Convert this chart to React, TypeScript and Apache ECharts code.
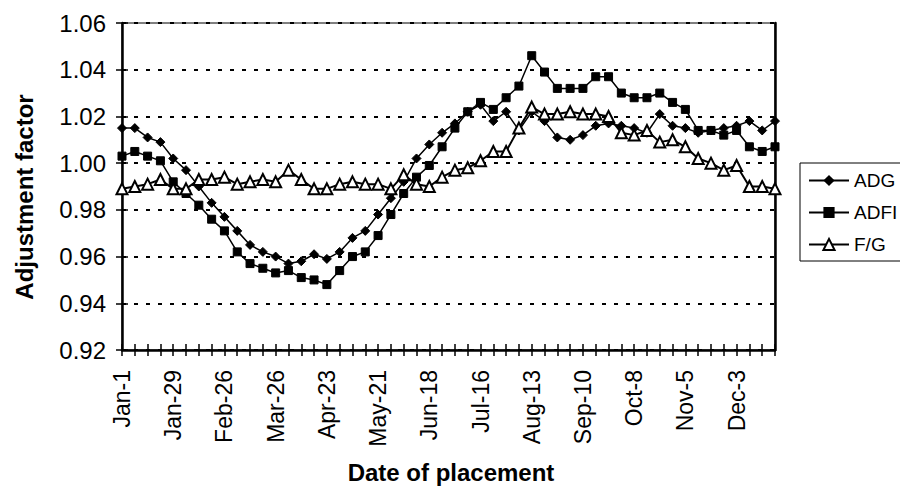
import React, { useEffect, useRef } from "react";
import * as echarts from "echarts";

const categories = [
  "Jan-1", "Jan-8", "Jan-15", "Jan-22", "Jan-29", "Feb-5", "Feb-12", "Feb-19", "Feb-26",
  "Mar-5", "Mar-12", "Mar-19", "Mar-26", "Apr-2", "Apr-9", "Apr-16", "Apr-23", "Apr-30",
  "May-7", "May-14", "May-21", "May-28", "Jun-4", "Jun-11", "Jun-18", "Jun-25", "Jul-2",
  "Jul-9", "Jul-16", "Jul-23", "Jul-30", "Aug-6", "Aug-13", "Aug-20", "Aug-27", "Sep-3",
  "Sep-10", "Sep-17", "Sep-24", "Oct-1", "Oct-8", "Oct-15", "Oct-22", "Oct-29", "Nov-5",
  "Nov-12", "Nov-19", "Nov-26", "Dec-3", "Dec-10", "Dec-17", "Dec-24",
];

const adg = [
  1.015, 1.015, 1.011, 1.009, 1.002, 0.997, 0.99, 0.983, 0.977, 0.971, 0.965, 0.962, 0.96,
  0.957, 0.958, 0.961, 0.959, 0.962, 0.968, 0.971, 0.978, 0.985, 0.992, 1.002, 1.008, 1.013,
  1.017, 1.022, 1.025, 1.018, 1.022, 1.014, 1.022, 1.018, 1.011, 1.01, 1.012, 1.016, 1.017,
  1.016, 1.015, 1.013, 1.021, 1.016, 1.015, 1.013, 1.014, 1.015, 1.016, 1.018, 1.014, 1.018,
];

const adfi = [
  1.003, 1.005, 1.003, 1.001, 0.992, 0.987, 0.982, 0.976, 0.971, 0.962, 0.957, 0.955, 0.953,
  0.954, 0.951, 0.95, 0.948, 0.954, 0.96, 0.962, 0.969, 0.978, 0.987, 0.994, 0.999, 1.007,
  1.015, 1.022, 1.026, 1.023, 1.028, 1.033, 1.046, 1.039, 1.032, 1.032, 1.032, 1.037, 1.037,
  1.03, 1.028, 1.028, 1.03, 1.026, 1.023, 1.014, 1.014, 1.012, 1.014, 1.007, 1.005, 1.007,
];

const fg = [
  0.989, 0.99, 0.991, 0.993, 0.989, 0.989, 0.993, 0.993, 0.994, 0.991, 0.992, 0.993, 0.992,
  0.997, 0.993, 0.989, 0.989, 0.991, 0.992, 0.991, 0.991, 0.989, 0.995, 0.991, 0.99, 0.994,
  0.997, 0.998, 1.001, 1.005, 1.005, 1.015, 1.024, 1.021, 1.021, 1.022, 1.021, 1.021, 1.02,
  1.013, 1.012, 1.014, 1.009, 1.01, 1.007, 1.002, 1.0, 0.997, 0.999, 0.99, 0.99, 0.989,
];

const yMin = 0.92;
const yMax = 1.06;
const yStep = 0.02;

const FONT = "'Liberation Sans', Arial, sans-serif";

export default function App() {
  const ref = useRef<HTMLDivElement>(null);

  useEffect(() => {
    if (!ref.current) return;
    const chart = echarts.init(ref.current, undefined, { renderer: "svg" });

    const yCommon = { type: "value" as const, min: yMin, max: yMax, interval: yStep };

    chart.setOption({
      animation: false,
      backgroundColor: "#ffffff",
      textStyle: { fontFamily: FONT, color: "#000" },
      grid: {
        left: 122,
        right: 125,
        top: 23,
        bottom: 140,
        show: true,
        borderColor: "#000",
        borderWidth: 1,
        backgroundColor: "transparent",
      },
      legend: {
        orient: "vertical",
        left: 800,
        top: 163,
        padding: [8, 60, 7, 8],
        itemGap: 13,
        itemWidth: 40,
        itemHeight: 14,
        borderColor: "#000",
        borderWidth: 1,
        textStyle: { fontFamily: FONT, fontSize: 19, color: "#000", lineHeight: 18 },
        data: ["ADG", "ADFI", "F/G"],
      },
      xAxis: [
        {
          type: "category",
          data: categories,
          boundaryGap: false,
          axisLine: { lineStyle: { color: "#000", width: 2.5 } },
          axisTick: { show: true, interval: 0, length: 6, lineStyle: { color: "#000", width: 1.5 } },
          axisLabel: {
            interval: 3,
            rotate: 90,
            margin: 20,
            fontFamily: FONT,
            fontSize: 23,
            color: "#000",
          },
          splitLine: { show: false },
        },
        {
          type: "category",
          data: categories,
          boundaryGap: false,
          position: "bottom",
          axisLine: { show: false },
          axisTick: { show: true, inside: true, interval: 0, length: 6, lineStyle: { color: "#000", width: 1.5 } },
          axisLabel: { show: false },
          splitLine: { show: false },
        },
      ],
      yAxis: [
        {
          ...yCommon,
          position: "left",
          axisLine: { show: true, lineStyle: { color: "#000", width: 2.5 } },
          axisTick: { show: true, length: 6, lineStyle: { color: "#000", width: 1.5 } },
          axisLabel: {
            margin: 16,
            fontFamily: FONT,
            fontSize: 24,
            color: "#000",
            formatter: (v: number) => v.toFixed(2),
          },
          splitLine: {
            show: true,
            lineStyle: { color: "#000", width: 2, type: [4, 8] },
          },
        },
        {
          ...yCommon,
          position: "left",
          axisLine: { show: false },
          axisTick: { show: true, inside: true, length: 6, lineStyle: { color: "#000", width: 1.5 } },
          axisLabel: { show: false },
          splitLine: { show: false },
        },
        {
          ...yCommon,
          position: "right",
          axisLine: { show: true, lineStyle: { color: "#000", width: 2.5 } },
          axisTick: { show: false },
          axisLabel: { show: false },
          splitLine: { show: false },
        },
      ],
      graphic: [
        {
          type: "text",
          x: 451,
          y: 472,
          style: {
            text: "Date of placement",
            fontFamily: FONT,
            fontSize: 24,
            fontWeight: "bold",
            fill: "#000",
            textAlign: "center",
            textVerticalAlign: "middle",
          },
        },
        {
          type: "text",
          x: 24,
          y: 197,
          rotation: Math.PI / 2,
          style: {
            text: "Adjustment factor",
            fontFamily: FONT,
            fontSize: 24,
            fontWeight: "bold",
            fill: "#000",
            textAlign: "center",
            textVerticalAlign: "middle",
          },
        },
      ],
      series: [
        {
          name: "ADG",
          type: "line",
          data: adg,
          symbol: "diamond",
          symbolSize: 9,
          showAllSymbol: true,
          lineStyle: { color: "#000", width: 1.5 },
          itemStyle: { color: "#000", borderColor: "#000" },
          z: 3,
        },
        {
          name: "ADFI",
          type: "line",
          data: adfi,
          symbol: "rect",
          symbolSize: 8,
          showAllSymbol: true,
          lineStyle: { color: "#000", width: 1.5 },
          itemStyle: { color: "#000", borderColor: "#000" },
          z: 3,
        },
        {
          name: "F/G",
          type: "line",
          data: fg,
          symbol: "triangle",
          symbolSize: 11,
          showAllSymbol: true,
          lineStyle: { color: "#000", width: 2 },
          itemStyle: { color: "#fff", borderColor: "#000", borderWidth: 2 },
          z: 4,
        },
      ],
    });

    return () => {
      chart.dispose();
    };
  }, []);

  return (
    <div
      ref={ref}
      style={{ position: "fixed", left: 0, top: 0, width: 900, height: 490, background: "#fff" }}
    />
  );
}
